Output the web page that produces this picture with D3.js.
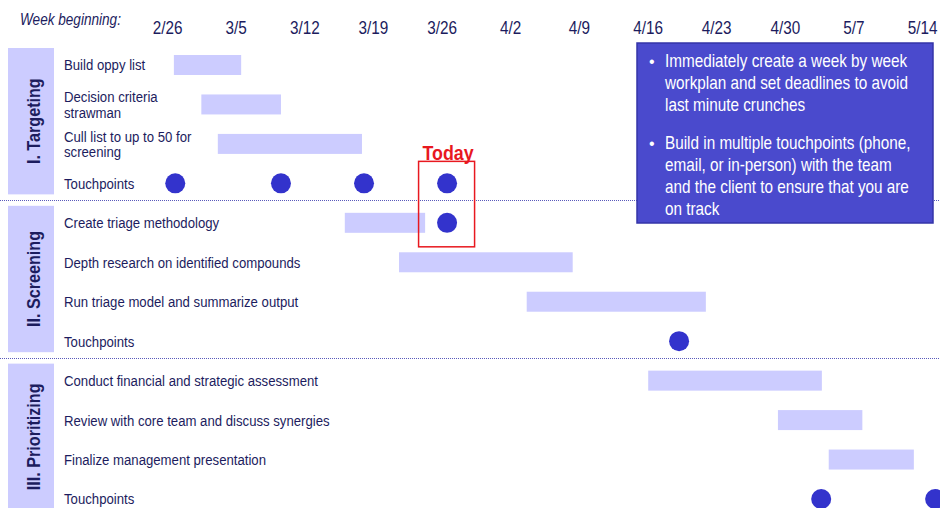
<!DOCTYPE html>
<html>
<head>
<meta charset="utf-8">
<style>
  * { margin: 0; padding: 0; }
  body { background: #fff; }
  svg { display: block; font-family: "Liberation Sans", Arial, sans-serif; }
</style>
</head>
<body>
<script src="https://cdn.jsdelivr.net/npm/d3@7/dist/d3.min.js"></script>
<script>
  // week labels across the top
  const weeks = ["2/26", "3/5", "3/12", "3/19", "3/26", "4/2", "4/9", "4/16", "4/23", "4/30", "5/7", "5/14"];

  // rows (task names, "\n" = line break)
  const rows = [
    "Build oppy list", "Decision criteria\nstrawman", "Cull list to up to 50 for\nscreening", "Touchpoints",
    "Create triage methodology", "Depth research on identified compounds", "Run triage model and summarize output", "Touchpoints",
    "Conduct financial and strategic assessment", "Review with core team and discuss synergies", "Finalize management presentation", "Touchpoints"
  ];

  const phases = ["I. Targeting", "II. Screening", "III. Prioritizing"];
  const phaseFirstRow = [0, 4, 8];
  const phaseLastRow = [3, 7, 11];

  // bars, in weeks from 2/26
  const barRow   = [0, 1, 2, 4, 5, 6, 8, 9, 10];
  const barStart = [0.60, 1.00, 1.24, 3.09, 3.88, 5.74, 7.51, 9.40, 10.14];
  const barEnd   = [1.58, 2.16, 3.34, 4.26, 6.41, 8.35, 10.04, 10.63, 11.38];

  // touchpoint dots
  const dotRow  = [3, 3, 3, 3, 4, 7, 11, 11];
  const dotWeek = [0.62, 2.16, 3.37, 4.58, 4.58, 7.96, 10.03, 11.69];

  const todayWeek = 4.58;

  const notes = [
    ["Immediately create a week by week", "workplan and set deadlines to avoid", "last minute crunches"],
    ["Build in multiple touchpoints (phone,", "email, or in-person) with the team", "and the client to ensure that you are", "on track"]
  ];

  const width = 940, height = 508;
  const navy = "#1c1c5e";
  const squeeze = 0.85; // the original font is a narrow one

  const svg = d3.select("body").append("svg")
    .attr("width", width)
    .attr("height", height);

  const x = d3.scaleLinear().domain([0, 12]).range([132.7, 956.4]);
  const y = d3.scalePoint().domain(d3.range(rows.length)).range([65, 499]);

  const at = (px, py, extra) => `translate(${px},${py})${extra || ""} scale(${squeeze},1)`;

  // phase boxes
  const ph = svg.append("g").attr("class", "phases");
  ph.selectAll("rect")
    .data(phases)
    .join("rect")
    .attr("x", 8)
    .attr("width", 46)
    .attr("y", (d, i) => y(phaseFirstRow[i]) - 17)
    .attr("height", (d, i) => y(phaseLastRow[i]) - y(phaseFirstRow[i]) + 28)
    .attr("fill", "#ccccff");
  ph.selectAll("text")
    .data(phases)
    .join("text")
    .attr("transform", (d, i) => {
      const cy = (y(phaseFirstRow[i]) - 17 + y(phaseLastRow[i]) + 11) / 2;
      return at(33, cy, " rotate(-90)");
    })
    .attr("text-anchor", "middle")
    .attr("dy", "0.35em")
    .attr("font-size", 19)
    .attr("font-weight", "bold")
    .attr("fill", navy)
    .text(d => d);

  // dotted separators
  svg.append("g")
    .selectAll("line")
    .data([3, 7])
    .join("line")
    .attr("x1", 0).attr("x2", width)
    .attr("y1", d => Math.round((y(d) + y(d + 1)) / 2) - 2.5)
    .attr("y2", d => Math.round((y(d) + y(d + 1)) / 2) - 2.5)
    .attr("stroke", "#5a5abb")
    .attr("stroke-width", 1)
    .attr("stroke-dasharray", "1,1");

  // row labels
  svg.append("g")
    .selectAll("text")
    .data(rows)
    .join("text")
    .attr("transform", (d, i) => at(64, y(i)))
    .attr("font-size", 15.5)
    .attr("fill", navy)
    .each(function (d) {
      const lines = d.split("\n");
      d3.select(this).selectAll("tspan")
        .data(lines)
        .join("tspan")
        .attr("x", 0)
        .attr("dy", (l, j) => j === 0 ? (0.35 - (lines.length - 1) * 0.5) + "em" : "1.0em")
        .text(l => l);
    });

  // bars
  svg.append("g")
    .attr("fill", "#ccccff")
    .selectAll("rect")
    .data(barRow)
    .join("rect")
    .attr("x", (d, i) => x(barStart[i]))
    .attr("width", (d, i) => x(barEnd[i]) - x(barStart[i]))
    .attr("y", d => y(d) - 10)
    .attr("height", 20);

  // dots
  svg.append("g")
    .attr("fill", "#3333cc")
    .selectAll("circle")
    .data(dotRow)
    .join("circle")
    .attr("cx", (d, i) => x(dotWeek[i]))
    .attr("cy", d => y(d))
    .attr("r", 10);

  // today box
  svg.append("rect")
    .attr("x", x(todayWeek) - 28.5)
    .attr("y", y(3) - 22)
    .attr("width", 56)
    .attr("height", y(4) - y(3) + 46)
    .attr("fill", "none")
    .attr("stroke", "#e8181f")
    .attr("stroke-width", 1.5);
  svg.append("text")
    .attr("transform", at(x(todayWeek) + 1, y(3) - 23))
    .attr("text-anchor", "middle")
    .attr("font-size", 21)
    .attr("font-weight", "bold")
    .attr("fill", "#e8181f")
    .text("Today");

  // top axis
  svg.append("g")
    .attr("transform", "translate(0,34)")
    .call(d3.axisTop(x)
      .tickValues(weeks.map((w, i) => i + 0.5))
      .tickFormat((d, i) => weeks[i])
      .tickSize(0)
      .tickPadding(0))
    .call(g => g.select(".domain").remove())
    .call(g => g.selectAll("text")
      .attr("transform", `scale(${squeeze},1)`)
      .attr("font-size", 18)
      .attr("font-family", null)
      .attr("fill", navy));

  svg.append("text")
    .attr("transform", at(20, 25))
    .attr("font-size", 16)
    .attr("font-style", "italic")
    .attr("fill", navy)
    .text("Week beginning:");

  // callout box
  const box = svg.append("g").attr("transform", "translate(637,43)");
  box.append("rect")
    .attr("width", 296)
    .attr("height", 180)
    .attr("fill", "#4a4acd")
    .attr("stroke", "#3434a8")
    .attr("stroke-width", 1.5);
  let ly = 24;
  notes.forEach(lines => {
    box.append("text")
      .attr("x", 12).attr("y", ly)
      .attr("font-size", 16).attr("fill", "#fff")
      .text("•");
    lines.forEach(l => {
      box.append("text")
        .attr("transform", at(28, ly))
        .attr("font-size", 18).attr("fill", "#fff")
        .text(l);
      ly += 22;
    });
    ly += 16;
  });
</script>
</body>
</html>
